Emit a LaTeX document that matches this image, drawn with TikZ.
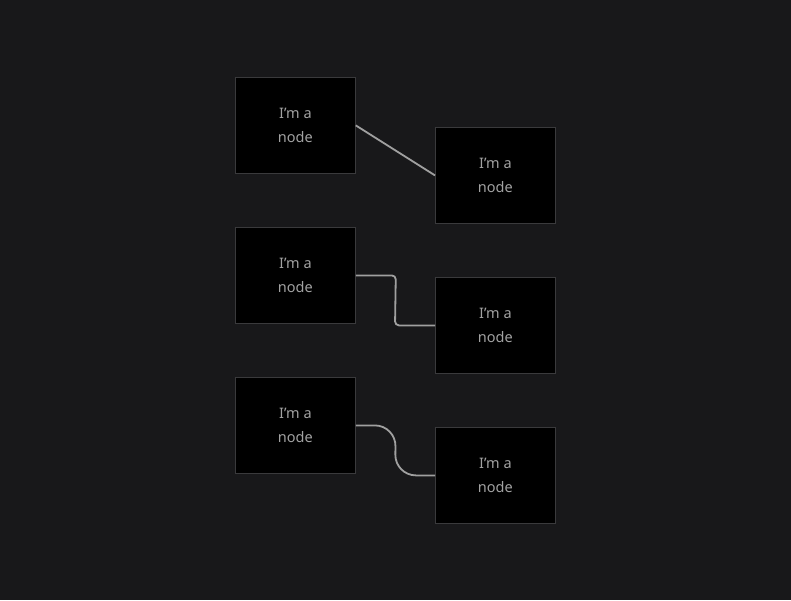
\documentclass[tikz,border=0pt]{standalone}
\usepackage{fontspec}
\setmainfont{Noto Sans}
\usetikzlibrary{calc}
\definecolor{bg}{HTML}{18181A}
\definecolor{nodeborder}{HTML}{3A3A3C}
\definecolor{nodetext}{HTML}{A2A2A2}
\definecolor{edgecol}{HTML}{A0A0A0}
\begin{document}
\begin{tikzpicture}[x=1pt,y=-1pt,
  box/.style={draw=nodeborder,line width=0.8pt,fill=black,minimum width=120pt,minimum height=96pt,
    inner sep=0pt,text=nodetext,font=\fontsize{14.5}{24}\selectfont,align=center,anchor=north west},
  edge/.style={draw=edgecol,line width=1.8pt}]
\fill[bg] (0,0) rectangle (791,600);
\useasboundingbox (0,0) rectangle (791,600);
\node[box] (a1) at (235,77) {I'm a\\node};
\node[box] (b1) at (435,127) {I'm a\\node};
\node[box] (a2) at (235,227) {I'm a\\node};
\node[box] (b2) at (435,277) {I'm a\\node};
\node[box] (a3) at (235,377) {I'm a\\node};
\node[box] (b3) at (435,427) {I'm a\\node};
\coordinate (m2a) at ($(a2.east)+(40,0)$);
\coordinate (m2b) at ($(b2.west)+(-40,0)$);
\coordinate (m3a) at ($(a3.east)+(40,0)$);
\coordinate (m3b) at ($(b3.west)+(-40,0)$);
\draw[edge] (a1.east) -- (b1.west);
\draw[edge,rounded corners=4pt] (a2.east) -- (m2a) -- (m2b) -- (b2.west);
\draw[edge,rounded corners=21pt] (a3.east) -- (m3a) -- (m3b) -- (b3.west);
\end{tikzpicture}
\end{document}
